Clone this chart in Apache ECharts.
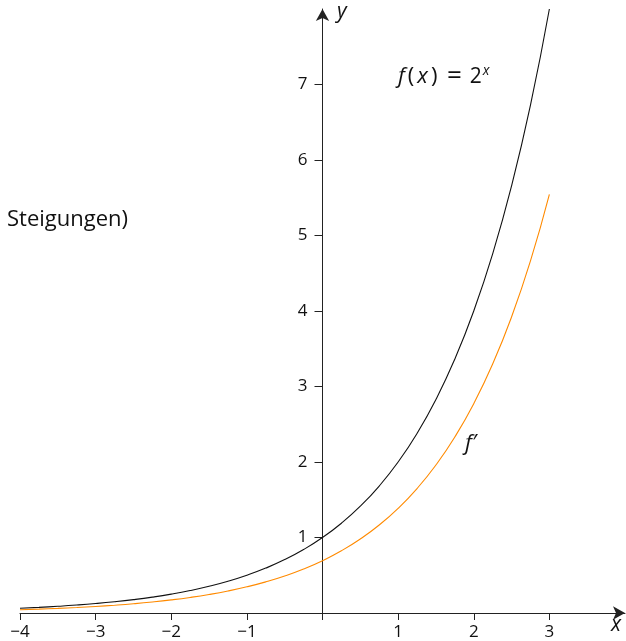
<!DOCTYPE html>
<html>
<head>
<meta charset="utf-8">
<script src="https://cdn.jsdelivr.net/npm/echarts@6/dist/echarts.min.js"></script>
<style>
  html, body { margin: 0; padding: 0; background: #fff; }
  #chart { width: 626px; height: 641px; }
</style>
</head>
<body>
<div id="chart"></div>
<script>
// Sample positions on the x axis
const xs = [-4, -3.75, -3.5, -3.25, -3, -2.75, -2.5, -2.25, -2, -1.75, -1.5, -1.25, -1,
            -0.75, -0.5, -0.25, 0, 0.25, 0.5, 0.75, 1, 1.25, 1.5, 1.75, 2, 2.25, 2.5, 2.75, 3];

// f(x) = 2^x
const fValues = [0.0625, 0.0743, 0.0884, 0.1051, 0.125, 0.1487, 0.1768, 0.2102, 0.25, 0.2973,
                 0.3536, 0.4204, 0.5, 0.5946, 0.7071, 0.8409, 1, 1.1892, 1.4142, 1.6818, 2,
                 2.3784, 2.8284, 3.3636, 4, 4.7568, 5.6569, 6.7272, 8];

// f'(x) — the slopes of f
const dValues = [0.0433, 0.0515, 0.0613, 0.0729, 0.0866, 0.1031, 0.1225, 0.1457, 0.1733, 0.2061,
                 0.2451, 0.2914, 0.3466, 0.4122, 0.4901, 0.5829, 0.6931, 0.8243, 0.9803, 1.1657,
                 1.3863, 1.6486, 1.9605, 2.3314, 2.7726, 3.2972, 3.9211, 4.663, 5.5452];

const xTicks = [-4, -3, -2, -1, 0, 1, 2, 3];
const xLabels = [-4, -3, -2, -1, 1, 2, 3];
const yTicks = [1, 2, 3, 4, 5, 6, 7];
const yLabels = [1, 2, 3, 4, 5, 6, 7];

const FONT = 'Open Sans';
const fmt = v => (v < 0 ? '\u2212' + Math.abs(v) : String(v));

const GRID = { left: 20, right: 1, top: 9, bottom: 28 };
const X_MIN = -4, X_MAX = 4;
// shift the y axis from the grid's left edge to x = 0
const plotWidth = 626 - GRID.left - GRID.right;
const yAxisShift = -plotWidth * (0 - X_MIN) / (X_MAX - X_MIN);

const chart = echarts.init(document.getElementById('chart'), null, { renderer: 'canvas' });

chart.setOption({
  animation: false,
  backgroundColor: '#fff',
  grid: Object.assign({ containLabel: false }, GRID),
  xAxis: {
    type: 'value', min: X_MIN, max: X_MAX,
    axisLine: { onZero: true, symbol: ['none', 'arrow'], symbolSize: [10, 12],
                lineStyle: { color: '#222', width: 1 } },
    axisTick: { show: true, length: 7, customValues: xTicks, lineStyle: { color: '#222' } },
    axisLabel: { customValues: xLabels, formatter: fmt, color: '#111',
                 fontFamily: FONT, fontSize: 17, margin: 11 },
    splitLine: { show: false }
  },
  yAxis: {
    type: 'value', min: 0, max: 8, position: 'left', offset: yAxisShift,
    axisLine: { onZero: false, symbol: ['none', 'arrow'], symbolSize: [10, 12],
                lineStyle: { color: '#222', width: 1 } },
    axisTick: { show: true, length: 8, customValues: yTicks, lineStyle: { color: '#222' } },
    axisLabel: { customValues: yLabels, formatter: fmt, color: '#111',
                 fontFamily: FONT, fontSize: 17, margin: 15 },
    splitLine: { show: false }
  },
  series: [
    {
      name: 'f', type: 'line', smooth: true, showSymbol: false,
      data: xs.map((x, i) => [x, fValues[i]]),
      lineStyle: { color: '#111', width: 1.1 }
    },
    {
      name: "f'", type: 'line', smooth: true, showSymbol: false,
      data: xs.map((x, i) => [x, dValues[i]]),
      lineStyle: { color: '#ff8a00', width: 1.1 }
    }
  ],
  graphic: [
    {
      type: 'text', left: 7, top: 209,
      style: { text: 'Steigungen)', fontFamily: FONT, fontSize: 22, fill: '#111' }
    },
    {
      type: 'text', left: 398, top: 64,
      style: {
        text: '{i|f}{p|(}{i|x}{p|)}{e|=}{n|2}{s|x}',
        fontFamily: FONT, fontSize: 21, fill: '#111',
        rich: {
          i: { fontFamily: FONT, fontSize: 22, fontStyle: 'italic', padding: [0, 1.5, 0, 1.5] },
          p: { fontFamily: FONT, fontSize: 22, padding: [0, 1.5, 0, 1.5] },
          e: { fontFamily: FONT, fontSize: 26, padding: [0, 8, 0, 8] },
          n: { fontFamily: FONT, fontSize: 21 },
          s: { fontFamily: FONT, fontSize: 14, fontStyle: 'italic', verticalAlign: 'top', padding: [0, 0, 10, 1] }
        }
      }
    },
    {
      type: 'text', left: 465, top: 433,
      style: { text: 'f\u2032', fontFamily: FONT, fontSize: 22, fontStyle: 'italic', fill: '#111' }
    },
    {
      type: 'text', left: 337, top: 2,
      style: { text: 'y', fontFamily: FONT, fontSize: 21, fontStyle: 'italic', fill: '#111' }
    },
    {
      type: 'text', left: 611, top: 615,
      style: { text: 'x', fontFamily: FONT, fontSize: 21, fontStyle: 'italic', fill: '#111' }
    }
  ]
});
</script>
</body>
</html>
